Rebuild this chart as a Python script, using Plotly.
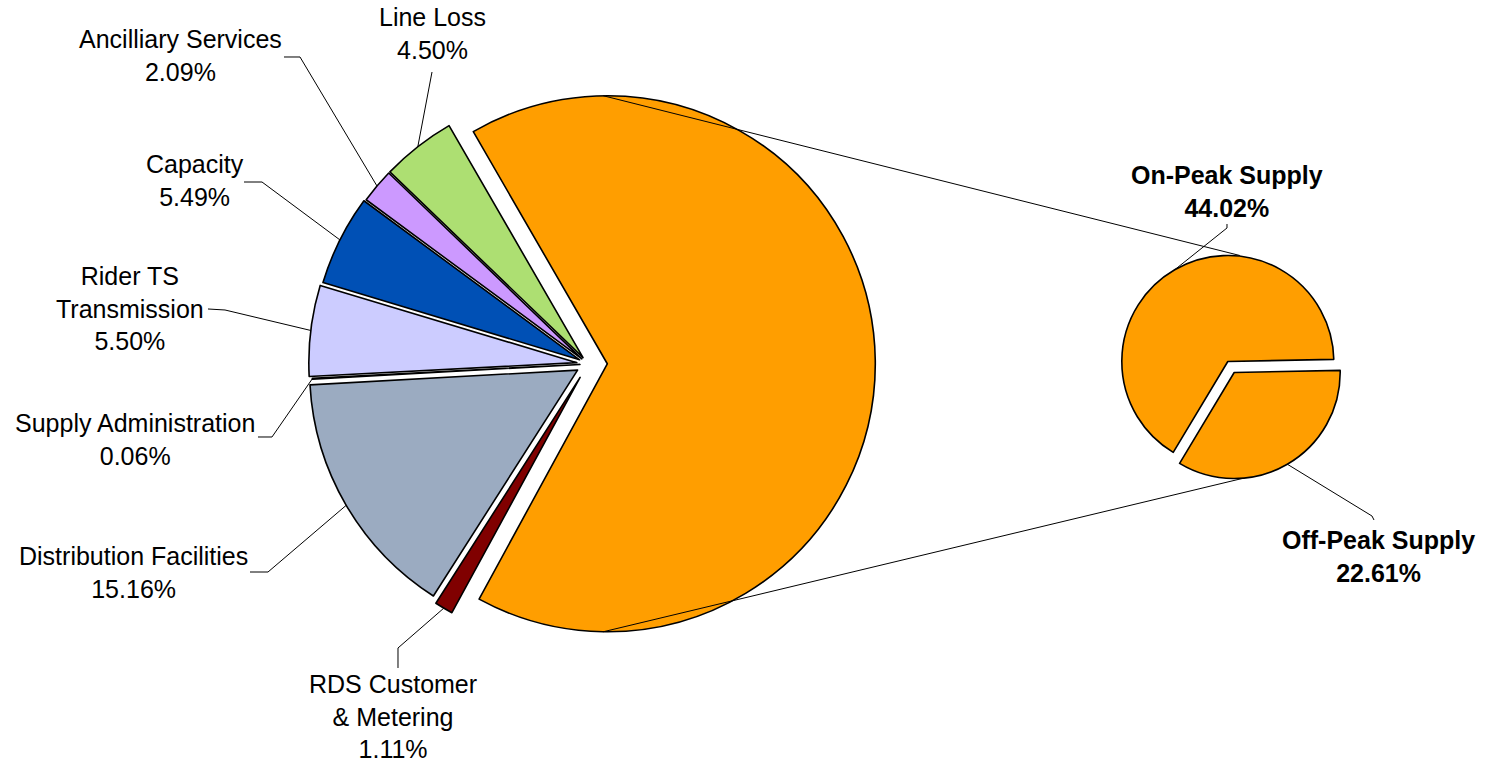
import math
import plotly.graph_objects as go

W, H = 1489, 762

# ---------------- data ----------------
main_labels = ["Supply", "RDS Customer<br>& Metering", "Distribution Facilities",
               "Supply Administration", "Rider TS<br>Transmission", "Capacity",
               "Ancilliary Services", "Line Loss"]
sub_labels = ["On-Peak Supply", "Off-Peak Supply"]
sub_values = [44.02, 22.61]
other_values = [1.11, 15.16, 0.06, 5.50, 5.49, 2.09, 4.50]
main_values = [round(sum(sub_values), 2)] + other_values

# ---------------- styles / layout ----------------
main_colors = ["#FF9E00", "#800000", "#9BABC1", "#1F2F6F", "#CCCCFF",
               "#0050B5", "#CC99FF", "#ADDF72"]
main_pull = [0.072, 0.058, 0.045, 0.03, 0.042, 0.035, 0.03, 0.03]
sub_colors = ["#FF9E00", "#FF9E00"]
sub_pull = [0.06, 0.06]

main_cx, main_cy, main_r = 588, 364, 268
main_rot = 330
sub_cx, sub_cy, sub_r = 1231, 367, 106
sub_rot = 211

FONT = "Liberation Sans, Arial, sans-serif"
FS = 25


def px(x, y):
    return x / W, 1 - y / H


def domain(cx, cy, r, pulls):
    half = r * (1 + max(pulls))
    x0, y0 = px(cx - half, cy + half)
    x1, y1 = px(cx + half, cy - half)
    return dict(x=[x0, x1], y=[y0, y1])


def slice_geom(values, rot, cx, cy, r, pulls):
    tot = sum(values)
    ang = rot
    out = []
    for v, p in zip(values, pulls):
        span = v / tot * 360
        mid = math.radians(ang + span / 2)
        dx, dy = math.sin(mid), -math.cos(mid)
        vx, vy = cx + p * r * dx, cy + p * r * dy
        out.append(dict(vertex=(vx, vy), arc=(vx + r * dx, vy + r * dy)))
        ang += span
    return out


fig = go.Figure()
fig.add_trace(go.Pie(
    labels=main_labels, values=main_values, sort=False, direction="clockwise",
    rotation=main_rot, pull=main_pull, textinfo="none", hoverinfo="label+percent",
    marker=dict(colors=main_colors, line=dict(color="black", width=1.6)),
    domain=domain(main_cx, main_cy, main_r, main_pull), showlegend=False))
fig.add_trace(go.Pie(
    labels=sub_labels, values=sub_values, sort=False, direction="clockwise",
    rotation=sub_rot, pull=sub_pull, textinfo="none", hoverinfo="label+percent",
    marker=dict(colors=sub_colors, line=dict(color="black", width=1.6)),
    domain=domain(sub_cx, sub_cy, sub_r, sub_pull), showlegend=False))

mg = slice_geom(main_values, main_rot, main_cx, main_cy, main_r, main_pull)
sg = slice_geom(sub_values, sub_rot, sub_cx, sub_cy, sub_r, sub_pull)

shapes = []


def line_path(points, width=1.0):
    d = "M " + " L ".join(f"{px(x, y)[0]:.5f},{px(x, y)[1]:.5f}" for x, y in points)
    shapes.append(dict(type="path", path=d, xref="paper", yref="paper",
                       line=dict(color="black", width=width), layer="above"))


# connector lines between the two pies
ov = mg[0]["vertex"]
on_v = sg[0]["vertex"]
off_v = sg[1]["vertex"]
line_path([(ov[0] - 4, ov[1] - main_r), (on_v[0] + 12, on_v[1] - sub_r)], 1.0)
line_path([(ov[0] - 4, ov[1] + main_r), (off_v[0] + 8, off_v[1] + sub_r)], 1.0)

# label text positions (px) and leader elbows
main_label_pos = {
    1: dict(c=(393, 716), pts=[(398, 668), (398, 648)]),
    2: dict(c=(133, 572), pts=[(250, 572), (268, 572)]),
    3: dict(c=(135, 439), pts=[(258, 437), (272, 437)]),
    4: dict(c=(130, 309), pts=[(208, 309), (225, 310)]),
    5: dict(c=(195, 180), pts=[(244, 182), (262, 182)]),
    6: dict(c=(180, 56), pts=[(284, 57), (300, 57)]),
    7: dict(c=(432, 34), pts=[(432, 72)]),
}
pct_main = [None] + other_values

annotations = []
for i, spec in main_label_pos.items():
    cx, cy = spec["c"]
    x, y = px(cx, cy)
    annotations.append(dict(
        x=x, y=y, xref="paper", yref="paper", showarrow=False,
        text=f"{main_labels[i]}<br>{pct_main[i]:.2f}%", align="center",
        xanchor="center", yanchor="middle",
        font=dict(family=FONT, size=FS, color="black")))
    line_path(spec["pts"] + [mg[i]["arc"]], 1.0)

sub_label_pos = {
    0: dict(c=(1227, 191), pts=[(1227, 224), (1227, 228)]),
    1: dict(c=(1378, 556), pts=[(1374, 520), (1372, 516)]),
}
for i, spec in sub_label_pos.items():
    cx, cy = spec["c"]
    x, y = px(cx, cy)
    annotations.append(dict(
        x=x, y=y, xref="paper", yref="paper", showarrow=False,
        text=f"<b>{sub_labels[i]}<br>{sub_values[i]:.2f}%</b>", align="center",
        xanchor="center", yanchor="middle",
        font=dict(family=FONT, size=FS, color="black")))
    line_path(spec["pts"] + [sg[i]["arc"]], 1.0)

fig.update_layout(
    width=W, height=H, margin=dict(l=0, r=0, t=0, b=0),
    paper_bgcolor="white", plot_bgcolor="white", showlegend=False,
    shapes=shapes, annotations=annotations)

fig.write_html(
    "out.html",
    config={"displayModeBar": False},
    post_script="document.body.style.margin='0';document.body.style.overflow='hidden';",
)
